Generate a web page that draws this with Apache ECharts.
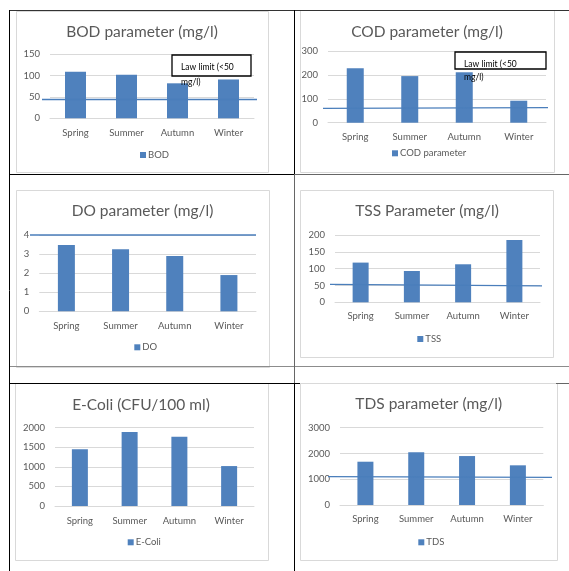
<!DOCTYPE html>
<html>
<head>
<meta charset="utf-8">
<script src="https://cdn.jsdelivr.net/npm/echarts@6/dist/echarts.min.js"></script>
<style>
html,body{margin:0;padding:0;background:#fff;}
#c{width:569px;height:571px;}
</style>
</head>
<body>
<div id="c"></div>
<script>
// ---- data ----
const categories = ['Spring', 'Summer', 'Autumn', 'Winter'];
const bodValues = [109, 102, 82, 91];
const codValues = [228, 195, 211, 92];
const doValues = [3.48, 3.25, 2.9, 1.9];
const tssValues = [118, 93, 113, 185];
const ecoliValues = [1450, 1890, 1770, 1020];
const tdsValues = [1680, 2050, 1900, 1540];
// law-limit reference lines: [value at left end, value at right end]
const bodLimit = [45, 45];
const codLimit = [60, 63];
const doLimit = [4, 4];
const tssLimit = [53, 49];
const tdsLimit = [1100, 1075];
const titles = ['BOD parameter (mg/l)', 'COD parameter (mg/l)', 'DO parameter (mg/l)', 'TSS Parameter (mg/l)', 'E-Coli (CFU/100 ml)', 'TDS parameter (mg/l)'];
const seriesNames = ['BOD', 'COD parameter', 'DO', 'TSS', 'E-Coli', 'TDS'];
const yMax = [150, 300, 4, 200, 2000, 3000];
const yStep = [50, 100, 1, 50, 500, 1000];
const lawText = ['Law limit (<50', 'mg/l)'];

// ---- layout ----
const FONT = 'Lato';
const BAR = '#4f81bd';
const LINE = '#4a7ebb';
const TXT = '#595959';
const GRIDC = '#d9d9d9';

const panels = [
  {grid: {left: 50, top: 54.3, width: 204, height: 64}, title: [142, 32], legend: [140, 156], bw: 21, xl: 10, limit: bodLimit, lx: [42, 257]},
  {grid: {left: 328, top: 51, width: 218, height: 71.7}, title: [427, 32], legend: [392, 154.3], bw: 17, xl: 9.5, limit: codLimit, lx: [323, 548]},
  {grid: {left: 39.3, top: 235, width: 216.7, height: 76.3}, title: [142.5, 211.7], legend: [134.3, 348.3], bw: 17, xl: 9.5, limit: doLimit, lx: [30, 256]},
  {grid: {left: 335, top: 235, width: 205, height: 67.3}, title: [427, 211], legend: [417.3, 340], bw: 16, xl: 8.5, limit: tssLimit, lx: [330, 542]},
  {grid: {left: 55, top: 427.7, width: 199, height: 78.3}, title: [141, 405], legend: [127.7, 543.3], bw: 16, xl: 9.5, limit: null},
  {grid: {left: 340, top: 427.7, width: 203.3, height: 77.3}, title: [428.7, 404], legend: [418.3, 543.3], bw: 16, xl: 8.5, limit: tdsLimit, lx: [328, 552]}
];
const values = [bodValues, codValues, doValues, tssValues, ecoliValues, tdsValues];

const option = {
  animation: false,
  backgroundColor: '#fff',
  textStyle: {fontFamily: FONT},
  title: [], legend: [], grid: [], xAxis: [], yAxis: [], series: [],
  graphic: []
};

panels.forEach((p, i) => {
  option.grid.push(Object.assign({containLabel: false}, p.grid));
  option.title.push({
    text: titles[i], left: p.title[0], top: p.title[1] - 8.5, textAlign: 'center', padding: 0,
    textStyle: {fontFamily: FONT, fontSize: 15.5, fontWeight: 'normal', color: TXT}
  });
  option.legend.push({
    data: [seriesNames[i]], left: p.legend[0], top: p.legend[1] - 6, padding: 0,
    itemWidth: 6, itemHeight: 6, icon: 'rect',
    textStyle: {fontFamily: FONT, fontSize: 9.5, color: TXT, padding: [0, 0, 0, -3]}
  });
  option.xAxis.push({
    type: 'category', gridIndex: i, data: categories,
    axisTick: {show: false},
    axisLine: {lineStyle: {color: GRIDC, width: 1}},
    axisLabel: {fontFamily: FONT, fontSize: 9.5, color: TXT, margin: p.xl}
  });
  option.yAxis.push({
    type: 'value', gridIndex: i, min: 0, max: yMax[i], interval: yStep[i],
    axisLine: {show: false}, axisTick: {show: false},
    splitLine: {lineStyle: {color: GRIDC, width: 1}},
    axisLabel: {fontFamily: FONT, fontSize: 9.5, color: TXT, margin: 10, formatter: v => String(v)}
  });
  const s = {
    type: 'bar', name: seriesNames[i], xAxisIndex: i, yAxisIndex: i,
    data: values[i], barWidth: p.bw, itemStyle: {color: BAR}
  };
  if (p.limit) {
    s.markLine = {
      silent: true, symbol: 'none', label: {show: false},
      lineStyle: {color: LINE, type: 'solid', width: i === 2 ? 1.6 : 1.3},
      data: [[
        {xAxis: 0, yAxis: p.limit[0], x: p.lx[0]},
        {xAxis: 3, yAxis: p.limit[1], x: p.lx[1]}
      ]]
    };
  }
  option.series.push(s);
});

// chart frames
const frames = [
  [16, 11, 252, 161], [300, 10, 254, 162],
  [16, 190, 253, 177], [300, 190, 253, 167],
  [15, 383, 253, 177], [300, 383, 257, 177]
];
frames.forEach(f => option.graphic.push({
  type: 'rect', shape: {x: f[0] + 0.5, y: f[1] + 0.5, width: f[2], height: f[3]},
  style: {fill: 'none', stroke: GRIDC, lineWidth: 1}, z: -1, silent: true
}));

// table borders
function hline(x1, x2, y, c) {
  option.graphic.push({type: 'line', shape: {x1: x1, y1: y + 0.5, x2: x2, y2: y + 0.5}, style: {stroke: c, lineWidth: 1}, silent: true, z: 0});
}
function vline(x, y1, y2, c) {
  option.graphic.push({type: 'line', shape: {x1: x + 0.5, y1: y1, x2: x + 0.5, y2: y2}, style: {stroke: c, lineWidth: 1}, silent: true, z: 0});
}
hline(9, 569, 10, '#333');
hline(9, 294, 174, '#000');
hline(294, 569, 174, '#666');
hline(9, 569, 366, '#8c8c8c');
hline(9, 300, 383, '#000');
hline(556, 569, 383, '#666');
vline(9, 10, 571, '#000');
vline(294, 10, 174, '#000');
vline(294, 174, 383, '#666');
vline(294, 383, 571, '#000');

// law limit text boxes
function lawBox(x, y, w, h, tx, ty1, ty2) {
  option.graphic.push({
    type: 'rect', shape: {x: x, y: y, width: w, height: h},
    style: {fill: '#fff', stroke: '#000', lineWidth: 1.3}, z: 10, silent: true
  });
  option.graphic.push({type: 'text', x: tx, y: ty1, style: {text: lawText[0], fill: '#000', font: '8.5px ' + FONT, verticalAlign: 'middle'}, z: 11, silent: true});
  option.graphic.push({type: 'text', x: tx, y: ty2, style: {text: lawText[1], fill: '#000', font: '8.5px ' + FONT, verticalAlign: 'middle'}, z: 11, silent: true});
}
lawBox(172, 55, 79, 21, 181, 67, 82);
lawBox(455, 52, 91, 17, 464, 64, 77);

const chart = echarts.init(document.getElementById('c'), null, {renderer: 'canvas'});
chart.setOption(option);
</script>
</body>
</html>
